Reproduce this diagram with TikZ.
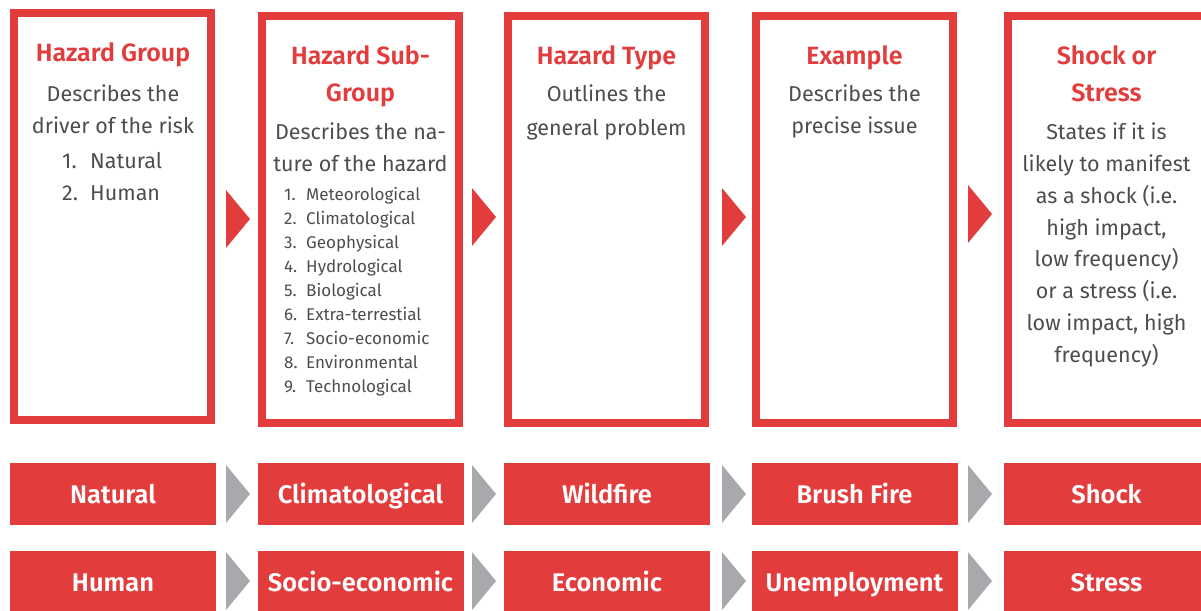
\documentclass[tikz,border=0pt]{standalone}
\usepackage{fontspec}
\IfFontExistsTF{Fira Sans SemiBold}
  {\setmainfont{Fira Sans}[BoldFont={Fira Sans SemiBold}]}
  {\setmainfont{Fira Sans}}
\definecolor{hred}{HTML}{E33C3D}
\definecolor{hgrey}{HTML}{4D4D4F}
\definecolor{agrey}{HTML}{A7A9AC}
\tikzset{
  frame/.style={draw=hred, line width=8pt, minimum width=197pt, minimum height=407pt, inner sep=0pt},
  title/.style={text=hred, font=\bfseries\fontsize{25}{30}\selectfont, anchor=base, inner sep=0pt},
  body/.style={text=hgrey, font=\fontsize{21.5}{32}\selectfont, anchor=base, inner sep=0pt},
  bitem/.style={text=hgrey, font=\fontsize{21.5}{32}\selectfont, anchor=base west, inner sep=0pt},
  sitem/.style={text=hgrey, font=\fontsize{17}{24}\selectfont, anchor=base west, inner sep=0pt},
  rowbox/.style={fill=hred, minimum width=206pt, minimum height=62pt, inner sep=0pt, text=white,
    font=\bfseries\fontsize{25.5}{30}\selectfont, text height=19.5pt, text depth=0pt},
}
\begin{document}
\begin{tikzpicture}[x=1pt,y=-1pt]
\useasboundingbox (0,0) rectangle (1201,610);
% frames
\node[frame] (col1) at (112.5,216.5) {};
\node[frame] (col2) at (360.5,219.5) {};
\node[frame] (col3) at (606.5,219.5) {};
\node[frame] (col4) at (854.5,219.5) {};
\node[frame] (col5) at (1106.5,219.5) {};
% red arrows
\foreach \x/\y in {226/219, 472/217, 722/217, 968/214}
  \fill[hred] (\x,\y-29) -- (\x+24,\y) -- (\x,\y+29) -- cycle;
% column 1
\node[title] (t1) at (113,62) {Hazard Group};
\node[body] (b1a) at (113,101.7) {Describes the};
\node[body] (b1b) at (113,133.3) {driver of the risk};
\node[bitem] (l1a) at (62,168) {\makebox[28pt][l]{1.}Natural};
\node[bitem] (l1b) at (62,200) {\makebox[28pt][l]{2.}Human};
% column 2
\node[title] (t2a) at (360.5,64) {Hazard Sub-};
\node[title] (t2b) at (360.5,101.7) {Group};
\node[body] (b2a) at (360.5,139) {Describes the na-};
\node[body] (b2b) at (360.5,171) {ture of the hazard};
\foreach \t [count=\i] in {Meteorological, Climatological, Geophysical, Hydrological, Biological,
  Extra-terrestial, Socio-economic, Environmental, Technological}
  \node[sitem] (l2\i) at (284,200.7+24*\i-24) {\makebox[22pt][l]{\i.}\t};
% column 3
\node[title] (t3) at (606.5,64) {Hazard Type};
\node[body] (b3a) at (606.5,101.7) {Outlines the};
\node[body] (b3b) at (606.5,135.5) {general problem};
% column 4
\node[title] (t4) at (854.5,64) {Example};
\node[body] (b4a) at (854.5,101.7) {Describes the};
\node[body] (b4b) at (854.5,133.3) {precise issue};
% column 5
\node[title] (t5a) at (1106.5,64) {Shock or};
\node[title] (t5b) at (1106.5,101.7) {Stress};
\foreach \t [count=\i] in {States if it is, likely to manifest, as a shock (i.e., {high impact,},
  low frequency), or a stress (i.e., {low impact, high}, frequency)}
  \node[body] (b5\i) at (1106.5,139.3+31.9*\i-31.9) {\t};
% example rows
\node[rowbox] (r1a) at (113,494) {Natural};
\node[rowbox] (r1b) at (360.5,494) {Climatological};
\node[rowbox] (r1c) at (607,494) {Wildfire};
\node[rowbox] (r1d) at (854.5,494) {Brush Fire};
\node[rowbox] (r1e) at (1106.5,494) {Shock};
\node[rowbox] (r2a) at (113,582) {Human};
\node[rowbox] (r2b) at (360.5,582) {Socio-economic};
\node[rowbox] (r2c) at (607,582) {Economic};
\node[rowbox] (r2d) at (854.5,582) {Unemployment};
\node[rowbox] (r2e) at (1106.5,582) {Stress};
% grey arrows
\foreach \x in {226, 472, 722, 968}
  \foreach \y in {494, 581}
    \fill[agrey] (\x,\y-29) -- (\x+24,\y) -- (\x,\y+29) -- cycle;
\end{tikzpicture}
\end{document}
